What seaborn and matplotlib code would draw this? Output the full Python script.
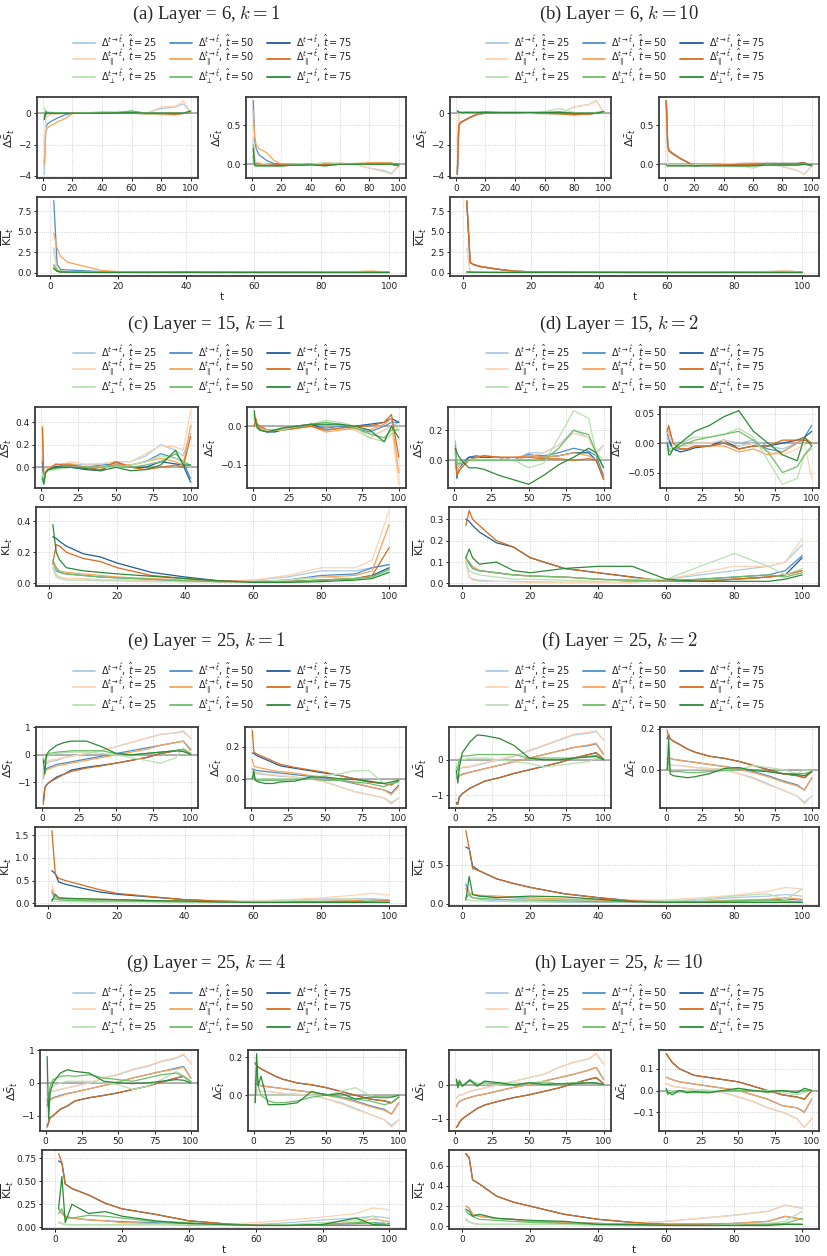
#%% import tools and libraries
import matplotlib
matplotlib.use('Agg')
import matplotlib.pyplot as plt
import seaborn as sns
import pandas as pd
from matplotlib.lines import Line2D

#%% data (sparse t grid)
# row order in every block: full 25/50/75, parallel 25/50/75, perp 25/50/75
T = [1, 2, 3, 5, 10, 15, 20, 30, 40, 50, 60, 70, 80, 90, 95, 100]

# (a) Layer 6, k = 1
A_S = [[-3.9, -0.3, -0.2, -0.1, -0.05, 0, 0, 0.02, 0.03, 0.05, 0.02, 0.0, 0.3, 0.4, 0.6, 0.05],
       [-3.2, -0.9, -0.7, -0.55, -0.3, -0.1, 0, 0, 0.02, 0, 0, -0.05, -0.05, -0.05, -0.02, 0.05],
       [-0.4, -0.05, 0, 0, 0, 0, 0, 0, 0, 0, 0, 0, -0.05, -0.05, 0, 0.05],
       [-3.0, -0.25, -0.15, -0.1, -0.05, 0, 0, 0.05, 0.05, 0.05, 0.02, 0.0, 0.4, 0.45, 0.8, 0.05],
       [-3.3, -1.2, -0.95, -0.8, -0.55, -0.35, -0.02, 0, 0, 0.02, 0, -0.05, -0.1, -0.1, 0.0, 0.05],
       [-0.3, 0, 0, 0, 0, 0, 0, 0, 0, 0, 0, 0, -0.05, -0.05, 0, 0.05],
       [0.35, 0.05, 0.05, 0.05, 0.05, 0.0, 0.0, 0.02, 0.1, 0.05, 0.1, -0.05, -0.05, 0, 0, 0.1],
       [-0.1, 0.15, 0.05, 0.05, 0.0, 0.02, 0.0, 0.0, 0.05, 0.05, 0.15, 0.0, 0.0, 0.0, 0.0, 0.1],
       [-0.3, 0.05, 0.0, 0.0, 0.0, 0.0, 0.0, 0.0, 0.0, 0.02, 0.05, 0.0, 0.0, 0.0, 0.0, 0.15]]
A_C = [[0.3, 0.05, 0.02, 0.0, 0.0, -0.02, -0.02, -0.01, 0.0, 0.01, 0.01, 0.0, -0.05, -0.08, -0.12, -0.02],
       [0.82, 0.3, 0.2, 0.12, 0.05, 0.01, 0.0, -0.01, 0.0, 0.0, 0.0, 0.0, 0.0, 0.01, 0.0, -0.02],
       [0.1, 0.0, 0.0, 0.0, -0.01, -0.01, -0.01, -0.01, 0.0, 0.0, 0.0, 0.0, 0.01, 0.01, 0.0, -0.02],
       [0.35, 0.05, 0.03, 0.02, 0.0, -0.01, -0.02, 0.0, 0.0, 0.02, 0.02, 0.0, -0.05, -0.1, -0.13, -0.03],
       [0.7, 0.35, 0.25, 0.2, 0.15, 0.05, 0.0, -0.01, 0.0, 0.0, 0.0, 0.01, 0.02, 0.02, 0.02, -0.02],
       [0.1, 0.0, 0.0, 0.0, -0.01, -0.01, -0.01, -0.01, 0.0, 0.0, 0.0, 0.0, 0.01, 0.01, 0.01, -0.02],
       [0.2, 0.0, -0.01, -0.01, -0.01, -0.02, -0.02, -0.01, 0.0, 0.02, 0.01, 0.0, 0.0, 0.0, 0.0, 0.0],
       [0.25, 0.0, -0.02, -0.02, -0.02, -0.02, -0.02, -0.01, 0.0, -0.02, 0.0, 0.0, 0.0, 0.0, 0.0, 0.0],
       [0.2, -0.02, -0.02, -0.02, -0.02, -0.02, -0.02, -0.01, -0.01, -0.02, 0.0, 0.0, 0.0, 0.0, 0.0, 0.0]]
A_K = [[3.0, 0.3, 0.2, 0.15, 0.1, 0.08, 0.06, 0.05, 0.05, 0.05, 0.05, 0.05, 0.08, 0.1, 0.15, 0.05],
       [8.8, 1.0, 0.4, 0.35, 0.25, 0.15, 0.1, 0.08, 0.06, 0.05, 0.05, 0.05, 0.05, 0.05, 0.05, 0.05],
       [0.8, 0.2, 0.1, 0.08, 0.05, 0.05, 0.05, 0.05, 0.05, 0.05, 0.05, 0.05, 0.05, 0.05, 0.05, 0.05],
       [2.5, 0.3, 0.2, 0.15, 0.1, 0.08, 0.06, 0.05, 0.05, 0.05, 0.05, 0.05, 0.1, 0.15, 0.3, 0.05],
       [4.8, 3.0, 2.0, 1.3, 0.8, 0.3, 0.15, 0.1, 0.08, 0.06, 0.05, 0.05, 0.05, 0.05, 0.05, 0.05],
       [0.6, 0.2, 0.1, 0.08, 0.05, 0.05, 0.05, 0.05, 0.05, 0.05, 0.05, 0.05, 0.05, 0.05, 0.05, 0.05],
       [0.8, 0.3, 0.2, 0.1, 0.08, 0.06, 0.06, 0.1, 0.15, 0.1, 0.05, 0.05, 0.05, 0.05, 0.05, 0.05],
       [1.0, 0.3, 0.2, 0.1, 0.08, 0.06, 0.06, 0.1, 0.15, 0.1, 0.05, 0.05, 0.05, 0.05, 0.05, 0.05],
       [0.5, 0.2, 0.1, 0.08, 0.06, 0.05, 0.05, 0.05, 0.05, 0.05, 0.05, 0.05, 0.05, 0.05, 0.05, 0.05]]

# (b) Layer 6, k = 10 (full curves sit under the parallel ones)
B_S = [[-3.9, 0.0, 0.05, 0.05, 0.05, 0.05, 0.05, 0.0, 0.0, 0.0, -0.05, -0.05, 0.4, 0.55, 0.8, 0.05],
       [-3.9, -0.8, -0.65, -0.5, -0.25, -0.05, 0.0, 0.02, 0.0, 0.0, 0.0, -0.05, -0.1, -0.05, 0.05, 0.05],
       [-3.9, -0.75, -0.6, -0.5, -0.25, -0.05, 0.0, 0.02, 0.0, 0.0, 0.0, -0.02, -0.08, -0.05, 0.0, 0.1],
       [-3.9, 0.0, 0.05, 0.05, 0.05, 0.05, 0.05, 0.0, 0.0, 0.0, -0.05, -0.05, 0.4, 0.55, 0.8, 0.05],
       [-3.9, -0.8, -0.65, -0.5, -0.25, -0.05, 0.0, 0.02, 0.0, 0.0, 0.0, -0.05, -0.1, -0.05, 0.05, 0.05],
       [-3.9, -0.75, -0.6, -0.5, -0.25, -0.05, 0.0, 0.02, 0.0, 0.0, 0.0, -0.02, -0.08, -0.05, 0.0, 0.1],
       [0.1, 0.1, 0.05, 0.05, 0.1, 0.05, 0.05, 0.05, 0.05, 0.0, 0.1, 0.3, 0.05, 0.0, 0.05, 0.05],
       [0.15, 0.1, 0.05, 0.05, 0.05, 0.05, 0.1, 0.05, 0.05, 0.05, 0.05, 0.1, 0.0, 0.0, 0.0, 0.1],
       [0.15, 0.05, 0.05, 0.05, 0.05, 0.05, 0.05, 0.05, 0.05, 0.05, 0.05, 0.05, 0.0, 0.0, 0.0, 0.1]]
B_C = [[0.82, -0.02, -0.01, -0.01, -0.01, -0.01, -0.01, -0.01, 0.0, 0.01, 0.02, 0.01, -0.03, -0.08, -0.13, -0.02],
       [0.82, 0.25, 0.18, 0.15, 0.08, 0.03, -0.02, -0.01, -0.01, 0.0, 0.0, 0.01, 0.0, 0.0, 0.0, -0.02],
       [0.82, 0.22, 0.17, 0.14, 0.08, 0.03, -0.02, -0.01, -0.01, 0.0, 0.0, 0.01, 0.01, 0.01, 0.02, -0.02],
       [0.82, -0.02, -0.01, -0.01, -0.01, -0.01, -0.01, -0.01, 0.0, 0.01, 0.02, 0.01, -0.03, -0.08, -0.13, -0.02],
       [0.82, 0.25, 0.18, 0.15, 0.08, 0.03, -0.02, -0.01, -0.01, 0.0, 0.0, 0.01, 0.0, 0.0, 0.0, -0.02],
       [0.82, 0.22, 0.17, 0.14, 0.08, 0.03, -0.02, -0.01, -0.01, 0.0, 0.0, 0.01, 0.01, 0.01, 0.02, -0.02],
       [0.0, -0.01, -0.01, -0.01, -0.01, -0.01, -0.01, -0.01, -0.02, -0.02, -0.05, 0.0, -0.02, -0.01, 0.0, 0.0],
       [-0.01, -0.02, -0.02, -0.02, -0.02, -0.02, -0.02, -0.02, -0.02, -0.02, -0.02, -0.01, -0.01, -0.01, 0.0, 0.0],
       [-0.01, -0.02, -0.02, -0.02, -0.02, -0.02, -0.02, -0.02, -0.02, -0.02, -0.02, -0.01, -0.01, -0.01, 0.0, -0.01]]
B_K = [[3.0, 0.1, 0.08, 0.06, 0.05, 0.05, 0.05, 0.05, 0.05, 0.05, 0.1, 0.05, 0.1, 0.15, 0.3, 0.05],
       [8.8, 1.3, 1.0, 0.8, 0.45, 0.2, 0.12, 0.08, 0.06, 0.05, 0.05, 0.05, 0.05, 0.05, 0.05, 0.05],
       [8.7, 1.25, 1.0, 0.75, 0.45, 0.2, 0.12, 0.08, 0.06, 0.05, 0.05, 0.05, 0.05, 0.05, 0.05, 0.05],
       [3.0, 0.1, 0.08, 0.06, 0.05, 0.05, 0.05, 0.05, 0.05, 0.05, 0.1, 0.05, 0.1, 0.15, 0.3, 0.05],
       [8.8, 1.3, 1.0, 0.8, 0.45, 0.2, 0.12, 0.08, 0.06, 0.05, 0.05, 0.05, 0.05, 0.05, 0.05, 0.05],
       [8.7, 1.25, 1.0, 0.75, 0.45, 0.2, 0.12, 0.08, 0.06, 0.05, 0.05, 0.05, 0.05, 0.05, 0.05, 0.05],
       [0.1, 0.1, 0.08, 0.06, 0.05, 0.05, 0.05, 0.05, 0.05, 0.05, 0.1, 0.15, 0.05, 0.05, 0.05, 0.05],
       [0.1, 0.08, 0.07, 0.06, 0.05, 0.05, 0.05, 0.05, 0.05, 0.05, 0.05, 0.05, 0.05, 0.05, 0.05, 0.05],
       [0.1, 0.08, 0.07, 0.06, 0.05, 0.05, 0.05, 0.05, 0.05, 0.05, 0.05, 0.05, 0.05, 0.05, 0.05, 0.05]]

# (c) Layer 15, k = 1
C_S = [[0.1, -0.1, -0.05, -0.02, 0.02, 0.03, 0.03, 0.02, 0.03, 0.05, 0.05, 0.1, 0.2, 0.15, 0.1, 0.3],
       [0.05, -0.12, -0.05, -0.02, 0.0, 0.02, 0.02, 0.0, 0.02, 0.03, 0.02, 0.05, 0.12, 0.08, 0.05, -0.1],
       [0.05, -0.1, -0.05, -0.02, 0.01, 0.0, 0.0, -0.02, -0.03, 0.05, 0.0, 0.0, 0.05, 0.03, 0.02, -0.13],
       [0.3, -0.1, -0.03, 0.0, 0.02, 0.03, 0.05, 0.03, 0.03, 0.05, 0.05, 0.12, 0.19, 0.18, 0.15, 0.5],
       [0.36, -0.12, -0.05, 0.0, 0.02, 0.03, 0.03, 0.0, 0.0, 0.03, 0.02, 0.05, 0.08, 0.05, 0.02, 0.37],
       [0.35, -0.13, -0.05, -0.02, 0.03, 0.02, 0.02, 0.0, -0.02, 0.05, 0.0, -0.02, 0.0, 0.02, 0.0, 0.27],
       [-0.05, -0.1, -0.05, -0.03, -0.02, -0.01, 0.0, 0.0, 0.0, 0.0, 0.02, 0.05, 0.1, 0.08, 0.05, 0.0],
       [-0.08, -0.13, -0.05, -0.02, -0.01, 0.0, 0.0, 0.0, 0.0, 0.02, 0.0, 0.02, 0.05, 0.12, 0.05, 0.02],
       [-0.1, -0.15, -0.05, -0.02, 0.0, 0.0, 0.0, -0.01, -0.03, 0.0, -0.03, -0.02, 0.02, 0.15, 0.02, 0.02]]
C_C = [[0.0, 0.0, -0.005, -0.01, -0.01, -0.012, -0.01, -0.005, 0.0, 0.005, 0.0, -0.01, -0.03, -0.01, 0.0, 0.01],
       [0.0, 0.005, -0.005, -0.01, -0.01, -0.012, -0.01, -0.005, 0.005, -0.005, 0.0, -0.005, -0.015, 0.0, 0.01, 0.01],
       [0.0, 0.01, 0.0, -0.01, -0.015, -0.015, -0.01, 0.0, 0.005, -0.01, -0.005, 0.0, 0.005, 0.01, 0.02, 0.01],
       [0.0, 0.01, 0.0, -0.005, -0.01, -0.01, -0.005, -0.005, 0.0, -0.01, -0.005, -0.01, -0.03, -0.01, 0.0, -0.15],
       [0.0, 0.02, 0.005, -0.005, -0.01, -0.01, -0.01, -0.005, 0.0, -0.015, -0.01, -0.005, -0.01, 0.005, 0.02, -0.12],
       [0.0, 0.02, 0.005, 0.0, -0.01, -0.01, -0.01, -0.005, 0.0, -0.01, -0.005, 0.0, 0.0, 0.01, 0.03, -0.08],
       [0.02, 0.005, -0.005, -0.01, -0.01, -0.01, -0.01, 0.0, 0.005, 0.015, 0.01, 0.0, -0.03, -0.04, -0.02, 0.0],
       [0.03, 0.01, -0.005, -0.01, -0.015, -0.01, -0.005, 0.0, 0.005, 0.01, 0.005, -0.005, -0.02, -0.03, -0.01, -0.01],
       [0.04, 0.01, 0.0, -0.01, -0.015, -0.01, -0.005, 0.0, 0.005, 0.005, 0.005, 0.0, -0.01, -0.04, 0.0, -0.03]]
C_K = [[0.1, 0.05, 0.04, 0.03, 0.03, 0.02, 0.02, 0.015, 0.01, 0.01, 0.02, 0.04, 0.08, 0.08, 0.1, 0.12],
       [0.12, 0.08, 0.07, 0.06, 0.05, 0.04, 0.035, 0.025, 0.015, 0.01, 0.01, 0.02, 0.05, 0.06, 0.1, 0.12],
       [0.3, 0.29, 0.27, 0.24, 0.19, 0.17, 0.13, 0.07, 0.04, 0.015, 0.01, 0.01, 0.02, 0.03, 0.05, 0.1],
       [0.12, 0.06, 0.04, 0.03, 0.03, 0.02, 0.02, 0.015, 0.01, 0.01, 0.02, 0.05, 0.1, 0.1, 0.15, 0.47],
       [0.13, 0.1, 0.08, 0.07, 0.06, 0.05, 0.04, 0.03, 0.02, 0.01, 0.01, 0.02, 0.04, 0.05, 0.08, 0.38],
       [0.13, 0.25, 0.24, 0.2, 0.16, 0.14, 0.1, 0.05, 0.03, 0.015, 0.01, 0.01, 0.02, 0.03, 0.05, 0.23],
       [0.1, 0.04, 0.03, 0.02, 0.02, 0.015, 0.015, 0.01, 0.01, 0.01, 0.01, 0.02, 0.04, 0.03, 0.04, 0.08],
       [0.15, 0.1, 0.07, 0.06, 0.05, 0.04, 0.035, 0.025, 0.015, 0.01, 0.01, 0.01, 0.02, 0.03, 0.04, 0.09],
       [0.38, 0.2, 0.15, 0.1, 0.08, 0.07, 0.06, 0.045, 0.03, 0.015, 0.005, 0.005, 0.01, 0.02, 0.03, 0.07]]

# (d) Layer 15, k = 2
D_S = [[0.13, -0.05, -0.03, -0.02, 0.02, 0.03, 0.02, 0.02, 0.0, 0.05, 0.05, 0.1, 0.2, 0.15, 0.05, 0.1],
       [0.05, -0.1, -0.05, -0.03, 0.02, 0.03, 0.02, 0.02, 0.0, 0.04, 0.03, 0.05, 0.08, 0.06, 0.03, -0.1],
       [0.05, -0.12, -0.05, -0.03, 0.02, 0.02, 0.02, 0.02, 0.0, 0.03, 0.02, 0.03, 0.05, 0.05, 0.0, -0.12],
       [0.1, -0.08, -0.05, -0.02, 0.0, 0.02, 0.03, 0.02, 0.0, 0.03, 0.05, 0.1, 0.18, 0.15, 0.03, 0.1],
       [0.08, -0.1, -0.08, -0.05, 0.0, 0.02, 0.03, 0.02, 0.02, 0.03, 0.02, 0.03, 0.05, 0.03, 0.0, -0.12],
       [0.08, -0.1, -0.08, -0.05, 0.0, 0.02, 0.03, 0.02, 0.02, 0.02, 0.01, 0.01, 0.0, 0.01, 0.0, -0.13],
       [0.05, -0.02, 0.0, -0.02, 0.0, 0.01, 0.0, 0.0, 0.0, -0.05, -0.02, 0.15, 0.33, 0.28, 0.05, 0.0],
       [0.1, -0.03, -0.02, -0.02, 0.0, 0.0, 0.0, 0.0, 0.0, 0.0, 0.0, 0.08, 0.2, 0.17, 0.05, -0.05],
       [0.08, 0.05, 0.03, 0.0, -0.05, -0.05, -0.06, -0.1, -0.13, -0.16, -0.1, -0.03, 0.02, 0.08, 0.05, -0.05]]
D_C = [[0.01, 0.0, -0.005, -0.01, -0.005, -0.005, 0.0, 0.0, 0.005, 0.0, 0.005, -0.005, -0.01, 0.0, 0.005, 0.0],
       [0.015, 0.01, 0.0, -0.01, -0.01, -0.01, -0.005, -0.005, 0.0, -0.005, 0.0, -0.01, -0.015, 0.0, 0.01, 0.03],
       [0.02, 0.015, 0.0, -0.01, -0.015, -0.012, -0.008, -0.005, 0.005, -0.01, -0.005, -0.005, 0.0, 0.005, 0.01, 0.02],
       [0.02, 0.015, 0.005, 0.0, -0.005, -0.005, 0.0, 0.0, 0.005, -0.005, 0.0, -0.015, -0.02, -0.01, 0.0, -0.06],
       [0.025, 0.025, 0.015, 0.0, -0.01, -0.01, -0.005, -0.005, -0.005, -0.015, -0.01, -0.02, -0.015, 0.0, 0.01, 0.0],
       [0.02, 0.03, 0.02, 0.0, -0.01, -0.01, -0.005, -0.005, 0.0, -0.01, -0.005, -0.005, 0.005, 0.005, 0.005, 0.0],
       [0.0, -0.01, -0.01, -0.005, 0.0, 0.005, 0.01, 0.01, 0.015, 0.025, 0.01, -0.03, -0.07, -0.06, -0.02, -0.01],
       [0.0, -0.01, -0.015, -0.01, -0.005, 0.0, 0.005, 0.01, 0.015, 0.02, 0.005, -0.015, -0.05, -0.04, -0.02, -0.005],
       [0.0, -0.02, -0.02, -0.01, 0.0, 0.01, 0.02, 0.03, 0.045, 0.055, 0.02, 0.0, -0.02, -0.03, 0.01, -0.005]]
D_K = [[0.1, 0.03, 0.02, 0.015, 0.01, 0.01, 0.008, 0.005, 0.005, 0.005, 0.02, 0.04, 0.06, 0.08, 0.1, 0.18],
       [0.12, 0.09, 0.07, 0.06, 0.05, 0.04, 0.035, 0.03, 0.02, 0.01, 0.01, 0.02, 0.03, 0.04, 0.06, 0.13],
       [0.3, 0.29, 0.27, 0.24, 0.19, 0.17, 0.12, 0.07, 0.05, 0.03, 0.01, 0.01, 0.02, 0.03, 0.04, 0.12],
       [0.1, 0.03, 0.015, 0.01, 0.01, 0.008, 0.005, 0.005, 0.005, 0.005, 0.02, 0.05, 0.08, 0.08, 0.1, 0.21],
       [0.11, 0.1, 0.08, 0.06, 0.05, 0.04, 0.035, 0.03, 0.02, 0.01, 0.01, 0.015, 0.02, 0.03, 0.04, 0.06],
       [0.27, 0.34, 0.3, 0.27, 0.2, 0.17, 0.12, 0.07, 0.05, 0.03, 0.01, 0.01, 0.02, 0.03, 0.04, 0.06],
       [0.1, 0.06, 0.05, 0.04, 0.03, 0.02, 0.02, 0.015, 0.01, 0.02, 0.02, 0.08, 0.14, 0.08, 0.04, 0.07],
       [0.12, 0.1, 0.07, 0.06, 0.05, 0.04, 0.035, 0.03, 0.02, 0.015, 0.01, 0.02, 0.03, 0.04, 0.03, 0.05],
       [0.12, 0.16, 0.12, 0.09, 0.1, 0.06, 0.05, 0.07, 0.08, 0.08, 0.02, 0.01, 0.01, 0.01, 0.02, 0.04]]

# (e) Layer 25, k = 1
E_S = [[-0.8, -0.4, -0.3, -0.25, -0.2, -0.1, -0.05, 0.05, 0.15, 0.3, 0.45, 0.6, 0.75, 0.8, 0.85, 0.6],
       [-0.7, -0.6, -0.5, -0.45, -0.35, -0.3, -0.25, -0.15, -0.05, 0.05, 0.15, 0.25, 0.35, 0.45, 0.5, 0.2],
       [-1.7, -1.2, -1.1, -1.0, -0.8, -0.7, -0.55, -0.45, -0.38, -0.3, -0.2, -0.1, 0.05, 0.15, 0.2, 0.02],
       [-0.9, -0.3, -0.25, -0.2, -0.15, -0.1, -0.05, 0.05, 0.15, 0.3, 0.45, 0.6, 0.75, 0.8, 0.88, 0.6],
       [-0.85, -0.6, -0.55, -0.5, -0.4, -0.35, -0.3, -0.2, -0.1, 0.0, 0.1, 0.2, 0.35, 0.45, 0.5, 0.15],
       [-1.8, -1.2, -1.1, -1.0, -0.85, -0.7, -0.6, -0.48, -0.4, -0.3, -0.2, -0.1, 0.05, 0.15, 0.2, 0.02],
       [-0.1, -0.2, -0.1, 0.0, 0.05, 0.08, 0.1, 0.1, 0.05, 0.0, -0.1, -0.2, -0.3, -0.1, 0.25, 0.05],
       [-0.15, -0.3, -0.05, 0.05, 0.1, 0.12, 0.15, 0.15, 0.15, 0.05, 0.0, 0.05, 0.1, 0.15, 0.2, 0.05],
       [-0.2, -0.7, 0.0, 0.15, 0.35, 0.45, 0.5, 0.5, 0.3, 0.05, 0.0, 0.05, 0.1, 0.15, 0.12, 0.02]]
E_C = [[0.04, 0.04, 0.035, 0.03, 0.025, 0.02, 0.015, 0.01, 0.0, -0.02, -0.05, -0.08, -0.1, -0.12, -0.15, -0.12],
       [0.06, 0.06, 0.055, 0.05, 0.045, 0.04, 0.035, 0.025, 0.015, 0.005, -0.01, -0.03, -0.05, -0.07, -0.09, -0.04],
       [0.16, 0.16, 0.15, 0.14, 0.12, 0.1, 0.08, 0.065, 0.05, 0.035, 0.02, 0.0, -0.02, -0.03, -0.035, -0.01],
       [0.05, 0.05, 0.045, 0.04, 0.03, 0.025, 0.02, 0.01, 0.0, -0.02, -0.05, -0.08, -0.1, -0.12, -0.16, -0.12],
       [0.12, 0.08, 0.075, 0.07, 0.06, 0.05, 0.045, 0.035, 0.02, 0.01, -0.005, -0.025, -0.05, -0.07, -0.1, -0.05],
       [0.3, 0.17, 0.16, 0.15, 0.13, 0.11, 0.09, 0.07, 0.055, 0.04, 0.02, 0.0, -0.02, -0.03, -0.04, -0.01],
       [0.0, 0.01, 0.0, 0.0, 0.0, 0.0, 0.0, 0.0, 0.0, 0.02, 0.03, 0.05, 0.05, -0.03, -0.03, -0.02],
       [0.0, 0.02, -0.01, -0.01, -0.01, -0.01, -0.01, -0.005, 0.0, -0.01, -0.01, -0.02, -0.03, -0.05, -0.03, -0.02],
       [0.0, 0.05, -0.01, -0.02, -0.03, -0.03, -0.02, -0.015, 0.01, 0.01, 0.0, -0.005, -0.015, -0.03, -0.02, -0.01]]
E_K = [[0.2, 0.1, 0.08, 0.07, 0.06, 0.05, 0.05, 0.04, 0.04, 0.04, 0.05, 0.07, 0.09, 0.1, 0.1, 0.08],
       [0.25, 0.15, 0.12, 0.1, 0.09, 0.08, 0.07, 0.06, 0.05, 0.04, 0.03, 0.03, 0.04, 0.05, 0.06, 0.05],
       [0.72, 0.65, 0.47, 0.42, 0.33, 0.25, 0.2, 0.14, 0.08, 0.05, 0.03, 0.03, 0.03, 0.03, 0.03, 0.03],
       [0.42, 0.15, 0.12, 0.1, 0.09, 0.08, 0.07, 0.06, 0.05, 0.05, 0.05, 0.08, 0.12, 0.18, 0.22, 0.18],
       [0.3, 0.15, 0.12, 0.11, 0.1, 0.09, 0.08, 0.06, 0.05, 0.04, 0.03, 0.03, 0.04, 0.06, 0.08, 0.07],
       [1.6, 0.65, 0.55, 0.5, 0.4, 0.3, 0.22, 0.15, 0.08, 0.05, 0.03, 0.03, 0.04, 0.04, 0.05, 0.05],
       [0.05, 0.05, 0.04, 0.04, 0.03, 0.03, 0.03, 0.03, 0.03, 0.03, 0.04, 0.05, 0.08, 0.1, 0.05, 0.03],
       [0.08, 0.1, 0.08, 0.07, 0.06, 0.05, 0.05, 0.04, 0.03, 0.03, 0.02, 0.02, 0.03, 0.03, 0.03, 0.02],
       [0.05, 0.2, 0.12, 0.11, 0.1, 0.09, 0.08, 0.06, 0.05, 0.03, 0.02, 0.02, 0.02, 0.02, 0.02, 0.02]]

# (f) Layer 25, k = 2
F_S = [[-0.3, -0.3, -0.25, -0.22, -0.2, -0.15, -0.1, 0.0, 0.1, 0.25, 0.4, 0.55, 0.7, 0.75, 0.8, 0.55],
       [-0.5, -0.5, -0.45, -0.4, -0.35, -0.3, -0.25, -0.15, -0.05, 0.05, 0.15, 0.25, 0.35, 0.4, 0.45, 0.15],
       [-1.2, -1.25, -1.05, -0.95, -0.8, -0.7, -0.6, -0.5, -0.38, -0.28, -0.18, -0.08, 0.05, 0.15, 0.2, 0.02],
       [-0.3, -0.3, -0.25, -0.2, -0.18, -0.13, -0.08, 0.02, 0.12, 0.27, 0.42, 0.57, 0.72, 0.78, 0.82, 0.55],
       [-0.5, -0.5, -0.45, -0.42, -0.35, -0.3, -0.25, -0.15, -0.05, 0.05, 0.15, 0.25, 0.35, 0.42, 0.47, 0.15],
       [-1.25, -1.2, -1.05, -0.95, -0.8, -0.7, -0.6, -0.5, -0.38, -0.28, -0.18, -0.08, 0.05, 0.15, 0.2, 0.02],
       [-0.1, -0.2, 0.0, 0.0, 0.05, 0.05, 0.05, 0.0, -0.05, -0.1, -0.2, -0.15, -0.1, -0.05, 0.05, 0.0],
       [-0.2, -0.3, 0.0, 0.1, 0.12, 0.15, 0.15, 0.15, 0.15, 0.05, 0.05, 0.05, 0.05, 0.1, 0.12, 0.0],
       [-0.3, -0.65, -0.2, 0.2, 0.5, 0.7, 0.68, 0.6, 0.4, 0.05, 0.0, 0.0, 0.05, 0.08, 0.1, 0.0]]
F_C = [[0.03, 0.03, 0.025, 0.02, 0.02, 0.015, 0.01, 0.005, 0.0, -0.02, -0.04, -0.07, -0.1, -0.13, -0.16, -0.13],
       [0.05, 0.06, 0.055, 0.05, 0.045, 0.04, 0.035, 0.025, 0.015, 0.005, -0.01, -0.03, -0.055, -0.075, -0.1, -0.04],
       [0.15, 0.17, 0.15, 0.14, 0.12, 0.1, 0.085, 0.065, 0.055, 0.04, 0.02, 0.0, -0.02, -0.03, -0.04, -0.01],
       [0.03, 0.03, 0.025, 0.02, 0.02, 0.015, 0.01, 0.005, 0.0, -0.02, -0.045, -0.075, -0.1, -0.13, -0.17, -0.13],
       [0.06, 0.06, 0.055, 0.05, 0.045, 0.04, 0.035, 0.025, 0.015, 0.0, -0.015, -0.035, -0.06, -0.08, -0.1, -0.04],
       [0.19, 0.16, 0.15, 0.14, 0.12, 0.1, 0.085, 0.065, 0.055, 0.04, 0.02, 0.0, -0.02, -0.03, -0.04, -0.01],
       [0.0, 0.01, 0.0, 0.0, 0.0, 0.0, 0.0, 0.0, 0.0, 0.0, 0.02, 0.01, 0.0, -0.02, 0.0, -0.01],
       [0.0, 0.05, -0.01, -0.01, -0.01, -0.015, -0.015, -0.01, -0.005, 0.0, 0.0, -0.01, -0.02, -0.02, -0.02, -0.01],
       [0.0, 0.15, -0.02, -0.03, -0.035, -0.04, -0.035, -0.02, 0.005, 0.01, -0.005, -0.01, -0.02, -0.025, -0.03, -0.01]]
F_K = [[0.2, 0.1, 0.08, 0.06, 0.04, 0.03, 0.03, 0.02, 0.02, 0.02, 0.03, 0.05, 0.08, 0.1, 0.12, 0.1],
       [0.25, 0.15, 0.12, 0.1, 0.09, 0.08, 0.07, 0.06, 0.05, 0.04, 0.03, 0.03, 0.04, 0.05, 0.06, 0.05],
       [0.72, 0.7, 0.48, 0.42, 0.32, 0.26, 0.21, 0.13, 0.08, 0.04, 0.02, 0.02, 0.02, 0.02, 0.02, 0.02],
       [0.2, 0.15, 0.12, 0.11, 0.1, 0.09, 0.07, 0.06, 0.05, 0.05, 0.05, 0.08, 0.11, 0.16, 0.21, 0.19],
       [0.2, 0.13, 0.12, 0.11, 0.1, 0.09, 0.08, 0.06, 0.05, 0.04, 0.03, 0.03, 0.05, 0.06, 0.08, 0.06],
       [0.93, 0.7, 0.45, 0.42, 0.32, 0.26, 0.21, 0.13, 0.08, 0.04, 0.02, 0.02, 0.02, 0.02, 0.02, 0.02],
       [0.05, 0.05, 0.04, 0.04, 0.03, 0.03, 0.03, 0.03, 0.03, 0.03, 0.04, 0.06, 0.1, 0.13, 0.05, 0.19],
       [0.08, 0.12, 0.08, 0.07, 0.06, 0.05, 0.05, 0.04, 0.03, 0.03, 0.02, 0.03, 0.04, 0.05, 0.04, 0.02],
       [0.05, 0.35, 0.12, 0.1, 0.08, 0.09, 0.1, 0.09, 0.06, 0.03, 0.02, 0.02, 0.02, 0.02, 0.02, 0.02]]

# (g) Layer 25, k = 4
G_S = [[-0.5, -0.4, -0.3, -0.25, -0.2, -0.15, -0.1, 0.0, 0.15, 0.25, 0.4, 0.5, 0.65, 0.75, 0.85, 0.6],
       [-0.7, -0.55, -0.5, -0.45, -0.38, -0.32, -0.28, -0.18, -0.08, 0.03, 0.15, 0.25, 0.35, 0.45, 0.5, 0.15],
       [-1.3, -1.2, -1.05, -1.0, -0.8, -0.7, -0.55, -0.45, -0.38, -0.3, -0.2, -0.1, 0.03, 0.15, 0.2, 0.02],
       [-0.5, -0.4, -0.3, -0.25, -0.2, -0.15, -0.1, 0.0, 0.15, 0.27, 0.42, 0.52, 0.67, 0.77, 0.88, 0.6],
       [-0.7, -0.6, -0.52, -0.47, -0.4, -0.33, -0.28, -0.18, -0.08, 0.03, 0.15, 0.25, 0.35, 0.42, 0.48, 0.15],
       [-1.35, -1.2, -1.05, -1.0, -0.8, -0.7, -0.55, -0.45, -0.38, -0.3, -0.2, -0.1, 0.03, 0.15, 0.2, 0.02],
       [-0.3, -0.4, -0.2, -0.1, 0.0, 0.05, 0.05, 0.05, 0.0, -0.05, -0.2, -0.1, 0.1, 0.35, 0.2, 0.0],
       [-0.5, -0.7, -0.1, 0.1, 0.2, 0.22, 0.2, 0.25, 0.15, 0.1, 0.05, 0.15, 0.25, 0.3, 0.2, 0.05],
       [0.8, -1.1, -0.3, 0.0, 0.3, 0.4, 0.35, 0.3, 0.05, 0.0, -0.02, 0.0, 0.05, 0.1, 0.08, 0.0]]
G_C = [[0.03, 0.03, 0.025, 0.02, 0.02, 0.015, 0.01, 0.005, 0.0, -0.02, -0.04, -0.07, -0.1, -0.13, -0.16, -0.13],
       [0.06, 0.06, 0.055, 0.05, 0.045, 0.04, 0.035, 0.025, 0.015, 0.005, -0.01, -0.03, -0.055, -0.075, -0.1, -0.04],
       [0.17, 0.16, 0.15, 0.14, 0.12, 0.1, 0.085, 0.065, 0.055, 0.04, 0.02, 0.0, -0.02, -0.03, -0.04, -0.01],
       [0.03, 0.03, 0.025, 0.02, 0.02, 0.015, 0.01, 0.005, 0.0, -0.02, -0.045, -0.075, -0.1, -0.13, -0.17, -0.13],
       [0.06, 0.06, 0.055, 0.05, 0.045, 0.04, 0.035, 0.025, 0.015, 0.0, -0.015, -0.035, -0.06, -0.08, -0.1, -0.04],
       [0.17, 0.16, 0.15, 0.14, 0.12, 0.1, 0.085, 0.065, 0.055, 0.04, 0.02, 0.0, -0.02, -0.03, -0.04, -0.01],
       [0.0, 0.02, 0.0, 0.0, 0.0, 0.0, 0.0, 0.0, 0.0, 0.0, 0.02, 0.04, 0.0, -0.02, -0.01, 0.0],
       [-0.04, 0.15, 0.05, 0.0, -0.03, -0.04, -0.04, -0.03, -0.01, 0.0, -0.01, -0.02, -0.03, -0.05, -0.04, -0.01],
       [-0.04, 0.22, 0.05, 0.1, -0.05, -0.05, -0.05, -0.04, 0.02, 0.0, 0.01, -0.02, -0.01, -0.01, -0.01, 0.0]]
G_K = [[0.05, 0.04, 0.03, 0.02, 0.02, 0.02, 0.02, 0.02, 0.02, 0.02, 0.03, 0.05, 0.08, 0.1, 0.12, 0.1],
       [0.2, 0.15, 0.12, 0.1, 0.08, 0.07, 0.06, 0.05, 0.04, 0.03, 0.02, 0.02, 0.03, 0.04, 0.05, 0.04],
       [0.72, 0.7, 0.47, 0.42, 0.35, 0.26, 0.2, 0.14, 0.07, 0.04, 0.02, 0.02, 0.02, 0.02, 0.02, 0.02],
       [0.06, 0.05, 0.03, 0.02, 0.02, 0.02, 0.02, 0.02, 0.02, 0.03, 0.05, 0.08, 0.11, 0.15, 0.21, 0.19],
       [0.2, 0.15, 0.12, 0.1, 0.08, 0.07, 0.05, 0.04, 0.02, 0.02, 0.02, 0.02, 0.03, 0.05, 0.09, 0.06],
       [0.8, 0.7, 0.47, 0.42, 0.35, 0.26, 0.2, 0.14, 0.07, 0.04, 0.02, 0.02, 0.02, 0.02, 0.02, 0.02],
       [0.05, 0.04, 0.03, 0.03, 0.03, 0.03, 0.03, 0.03, 0.03, 0.02, 0.02, 0.03, 0.05, 0.07, 0.12, 0.02],
       [0.15, 0.2, 0.1, 0.1, 0.13, 0.12, 0.1, 0.06, 0.05, 0.03, 0.02, 0.02, 0.03, 0.05, 0.05, 0.02],
       [0.2, 0.55, 0.05, 0.25, 0.15, 0.17, 0.12, 0.07, 0.04, 0.03, 0.02, 0.02, 0.03, 0.1, 0.03, 0.02]]

# (h) Layer 25, k = 10 (full curves sit under the parallel ones)
H_S = [[-0.4, -0.35, -0.3, -0.3, -0.2, -0.15, -0.1, 0.0, 0.1, 0.2, 0.3, 0.5, 0.65, 0.75, 0.9, 0.6],
       [-0.65, -0.55, -0.5, -0.45, -0.38, -0.32, -0.28, -0.18, -0.08, 0.0, 0.1, 0.2, 0.3, 0.42, 0.5, 0.15],
       [-1.25, -1.2, -1.1, -1.0, -0.85, -0.7, -0.6, -0.48, -0.38, -0.3, -0.2, -0.1, 0.03, 0.15, 0.2, 0.02],
       [-0.4, -0.35, -0.3, -0.3, -0.2, -0.15, -0.1, 0.0, 0.1, 0.2, 0.3, 0.5, 0.65, 0.75, 0.9, 0.6],
       [-0.65, -0.55, -0.5, -0.45, -0.38, -0.32, -0.28, -0.18, -0.08, 0.0, 0.1, 0.2, 0.3, 0.42, 0.5, 0.15],
       [-1.25, -1.2, -1.1, -1.0, -0.85, -0.7, -0.6, -0.48, -0.38, -0.3, -0.2, -0.1, 0.03, 0.15, 0.2, 0.02],
       [0.1, 0.0, 0.15, 0.0, 0.1, 0.05, 0.0, 0.05, 0.05, 0.02, 0.1, 0.0, 0.05, 0.02, 0.05, 0.0],
       [0.15, -0.05, 0.1, -0.05, 0.15, 0.0, 0.05, 0.02, 0.0, 0.05, 0.05, 0.02, 0.05, 0.05, 0.02, 0.0],
       [0.15, -0.1, 0.1, -0.05, 0.12, -0.05, 0.1, 0.05, -0.02, 0.05, 0.0, 0.02, 0.02, 0.05, 0.05, 0.0]]
H_C = [[0.03, 0.03, 0.025, 0.02, 0.015, 0.01, 0.005, 0.0, -0.01, -0.03, -0.05, -0.08, -0.1, -0.13, -0.17, -0.13],
       [0.06, 0.06, 0.055, 0.05, 0.04, 0.035, 0.03, 0.02, 0.01, 0.0, -0.02, -0.04, -0.07, -0.08, -0.1, -0.04],
       [0.17, 0.16, 0.15, 0.13, 0.1, 0.085, 0.07, 0.06, 0.05, 0.04, 0.02, 0.0, -0.02, -0.03, -0.04, 0.0],
       [0.03, 0.03, 0.025, 0.02, 0.015, 0.01, 0.005, 0.0, -0.01, -0.03, -0.05, -0.08, -0.1, -0.13, -0.17, -0.13],
       [0.06, 0.06, 0.055, 0.05, 0.04, 0.035, 0.03, 0.02, 0.01, 0.0, -0.02, -0.04, -0.07, -0.08, -0.1, -0.04],
       [0.17, 0.16, 0.15, 0.13, 0.1, 0.085, 0.07, 0.06, 0.05, 0.04, 0.02, 0.0, -0.02, -0.03, -0.04, 0.0],
       [-0.01, 0.0, -0.01, 0.0, -0.01, 0.0, 0.0, 0.0, 0.0, 0.01, 0.0, 0.0, -0.01, -0.02, -0.01, 0.0],
       [0.0, -0.02, -0.01, -0.01, 0.0, -0.01, -0.01, -0.01, 0.0, 0.0, 0.0, -0.01, 0.0, -0.01, 0.0, 0.0],
       [0.01, -0.01, -0.01, -0.02, 0.0, -0.01, -0.005, -0.01, 0.0, 0.01, 0.0, -0.005, 0.0, -0.01, 0.01, 0.0]]
H_K = [[0.06, 0.05, 0.03, 0.02, 0.02, 0.02, 0.02, 0.02, 0.02, 0.03, 0.05, 0.08, 0.11, 0.15, 0.21, 0.18],
       [0.2, 0.18, 0.12, 0.1, 0.08, 0.07, 0.05, 0.04, 0.03, 0.02, 0.02, 0.02, 0.03, 0.05, 0.1, 0.07],
       [0.72, 0.68, 0.46, 0.42, 0.3, 0.24, 0.2, 0.12, 0.07, 0.04, 0.02, 0.02, 0.02, 0.02, 0.02, 0.02],
       [0.06, 0.05, 0.03, 0.02, 0.02, 0.02, 0.02, 0.02, 0.02, 0.03, 0.05, 0.08, 0.11, 0.15, 0.21, 0.18],
       [0.2, 0.18, 0.12, 0.1, 0.08, 0.07, 0.05, 0.04, 0.03, 0.02, 0.02, 0.02, 0.03, 0.05, 0.1, 0.07],
       [0.72, 0.68, 0.46, 0.42, 0.3, 0.24, 0.2, 0.12, 0.07, 0.04, 0.02, 0.02, 0.02, 0.02, 0.02, 0.02],
       [0.08, 0.04, 0.03, 0.02, 0.02, 0.02, 0.02, 0.02, 0.01, 0.01, 0.01, 0.01, 0.02, 0.03, 0.05, 0.15],
       [0.15, 0.12, 0.1, 0.07, 0.06, 0.05, 0.04, 0.03, 0.02, 0.01, 0.01, 0.01, 0.01, 0.02, 0.03, 0.08],
       [0.17, 0.15, 0.1, 0.12, 0.08, 0.07, 0.06, 0.05, 0.02, 0.02, 0.01, 0.01, 0.01, 0.01, 0.02, 0.02]]

# tick positions as printed
S_TICKS = [[-4, -2, 0], [-4, -2, 0], [0.0, 0.2, 0.4], [0.0, 0.2], [-1, 0, 1], [-1, 0], [-1, 0, 1], [-1, 0]]
C_TICKS = [[0.0, 0.5], [0.0, 0.5], [-0.1, 0.0], [-0.05, 0.00, 0.05], [0.0, 0.2], [0.0, 0.2], [0.0, 0.2], [-0.1, 0.0, 0.1]]
K_TICKS = [[0.0, 2.5, 5.0, 7.5], [0.0, 2.5, 5.0, 7.5], [0.0, 0.2, 0.4], [0.0, 0.1, 0.2, 0.3],
           [0.0, 0.5, 1.0, 1.5], [0.0, 0.5], [0.00, 0.25, 0.50, 0.75], [0.0, 0.2, 0.4, 0.6]]
TOP_XTICKS = [[0, 20, 40, 60, 80, 100]] * 2 + [[0, 25, 50, 75, 100]] * 6
LETTERS = ['a', 'b', 'c', 'd', 'e', 'f', 'g', 'h']
LAYERS = [6, 6, 15, 15, 25, 25, 25, 25]
KS = [1, 10, 1, 2, 1, 2, 4, 10]

SERIES = ['full25', 'full50', 'full75', 'par25', 'par50', 'par75', 'perp25', 'perp50', 'perp75']
COLORS = ['#a9c9e4', '#4a8fca', '#1f5c99',
          '#fdd3b0', '#fba258', '#d56b1f',
          '#b8e0b1', '#6cbe68', '#2b8a36']
SUBS = {'full': '', 'par': r'_{\parallel}', 'perp': r'_{\perp}'}

#%% style
sns.set_theme(style='whitegrid')
plt.rcParams['font.family'] = ['DejaVu Sans']
plt.rcParams['mathtext.fontset'] = 'dejavusans'

W, H = 827, 1256
fig = plt.figure(figsize=(W / 100, H / 100), dpi=100)
fig.patch.set_facecolor('white')


def px_axes(x0, y0, x1, y1):
    return fig.add_axes([x0 / W, 1 - y1 / H, (x1 - x0) / W, (y1 - y0) / H])


def style_ax(ax):
    ax.set_facecolor('white')
    ax.grid(True, ls=':', lw=0.6, color='#c4c4c4')
    for sp in ax.spines.values():
        sp.set_color('#3a3a3a')
        sp.set_linewidth(1.3)
    ax.tick_params(axis='both', labelsize=6.5, length=2.5, width=0.7, pad=1.5,
                   bottom=True, left=True, colors='#222222')
    ax.set_xlabel('')


def draw(ax, rows):
    df = pd.DataFrame({'t': T * len(SERIES),
                       'v': [v for r in rows for v in r],
                       'series': [s for s in SERIES for _ in T]})
    sns.lineplot(data=df, x='t', y='v', hue='series', hue_order=SERIES,
                 palette=dict(zip(SERIES, COLORS)), estimator=None, errorbar=None,
                 lw=0.9, legend=False, ax=ax)


panels = [(A_S, A_C, A_K), (B_S, B_C, B_K), (C_S, C_C, C_K), (D_S, D_C, D_K),
          (E_S, E_C, E_K), (F_S, F_C, F_K), (G_S, G_C, G_K), (H_S, H_C, H_K)]
row_off = [0, 310, 630, 953]
title_y = [14, 324, 641, 963]
leg_y = [58, 368, 686, 1008]
leg_dy = [-17, 0, 18]
# left frame edges (px inside each panel) of the S, c and KL axes
left_edges = [(37, 246, 37), (37, 246, 37), (35, 247, 36), (35, 247, 36),
              (36, 245, 35), (36, 247, 36), (40, 248, 42), (36, 246, 36)]

# one legend row per kind (full / parallel / perp), three t-hat columns each
leg_rows = []
for kind, base in [('full', 0), ('par', 3), ('perp', 6)]:
    hs, ls = [], []
    for j, th in enumerate(['25', '50', '75']):
        hs.append(Line2D([0], [0], color=COLORS[base + j], lw=1.3))
        ls.append(r'$\Delta' + SUBS[kind] + r'^{t\rightarrow\hat{t}}$, $\hat{t}=' + th + '$')
    leg_rows.append((hs, ls))

for p, (S, C, K) in enumerate(panels):
    xo = 0 if p % 2 == 0 else 413
    yo = row_off[p // 2]
    lS, lC, lK = left_edges[p]

    fig.text((xo + 206) / W, 1 - title_y[p // 2] / H,
             '(%s) Layer = %d, $k = %d$' % (LETTERS[p], LAYERS[p], KS[p]),
             family='Liberation Serif', math_fontfamily='cm', fontsize=13.5,
             ha='center', va='center')
    for r, (hs, ls) in enumerate(leg_rows):
        fig.legend(hs, ls, loc='center left', ncol=3, frameon=False, fontsize=7,
                   bbox_to_anchor=((xo + 66) / W, 1 - (leg_y[p // 2] + leg_dy[r]) / H),
                   handlelength=2.3, handletextpad=0.6, columnspacing=1.3,
                   borderpad=0.2)

    axS = px_axes(xo + lS, yo + 97, xo + 198, yo + 178)
    axC = px_axes(xo + lC, yo + 97, xo + 406, yo + 178)
    axK = px_axes(xo + lK, yo + 197, xo + 406, yo + 276)

    for ax, rows in [(axS, S), (axC, C), (axK, K)]:
        draw(ax, rows)
        style_ax(ax)
    for ax in [axS, axC]:
        ax.axhline(0, color='gray', lw=1.2, alpha=0.7, zorder=1)
        ax.set_xticks(TOP_XTICKS[p])
    axK.set_xticks([0, 20, 40, 60, 80, 100])
    axS.set_yticks(S_TICKS[p])
    axC.set_yticks(C_TICKS[p])
    axK.set_yticks(K_TICKS[p])
    axS.set_ylabel(r'$\Delta\bar{S}_t$', fontsize=8, labelpad=1)
    axC.set_ylabel(r'$\Delta\bar{c}_t$', fontsize=8, labelpad=1)
    axK.set_ylabel(r'$\overline{\mathrm{KL}}_t$', fontsize=8, labelpad=0.5)
    # the middle rows have their 't' clipped away in the original
    if p // 2 in (0, 3):
        axK.set_xlabel('t', fontsize=7.5, labelpad=1)

fig.savefig('out.png', dpi=100, facecolor='white')
